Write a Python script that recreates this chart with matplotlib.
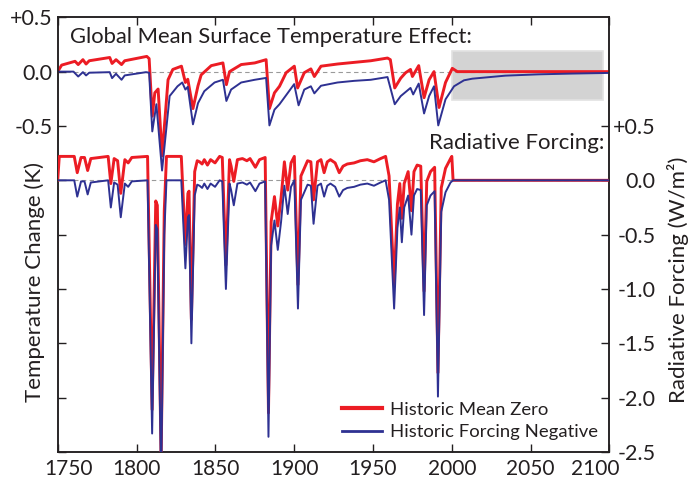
import matplotlib
matplotlib.use("Agg")
import matplotlib.pyplot as plt
import matplotlib.transforms as mtransforms
from matplotlib.patches import Rectangle
from matplotlib import rcParams

rcParams.update({"font.family": ["Lato", "DejaVu Sans"], "font.size": 15})

# ---- data ----
# radiative forcing (W/m2), both runs share the same year breakpoints
forcing_years = [1750, 1751, 1760.5, 1762.4, 1764.8, 1767, 1769, 1771, 1782, 1783.7,
                 1785.8, 1788, 1790, 1792.6, 1794.7, 1797, 1807, 1809.9, 1812.2, 1813.2,
                 1815.6, 1817.6, 1819, 1828.4, 1831, 1832.6, 1833.3, 1834.8, 1836.9, 1838.5,
                 1840, 1841.6, 1843, 1845, 1847, 1849.8, 1852.7, 1854.4, 1856.7, 1859,
                 1860, 1861.7, 1864, 1867.2, 1870, 1872, 1875.4, 1878, 1881.6, 1883.7,
                 1885.4, 1887.5, 1889.6, 1891.7, 1893.8, 1895.9, 1898, 1900.1, 1902.4, 1904.3,
                 1906.4, 1908.5, 1910.6, 1912.3, 1914.8, 1917, 1919, 1921, 1923, 1926,
                 1928.6, 1931, 1933.7, 1938, 1942, 1946.4, 1950.6, 1954.8, 1958, 1960.2,
                 1963.4, 1965.5, 1967, 1968.3, 1969.8, 1972.3, 1974.4, 1976, 1978, 1980.3,
                 1982.4, 1984.1, 1986.5, 1989.1, 1991.2, 1993.3, 1996, 1999.2, 2000.0, 2000.8,
                 2100]
forcing_negative = [0.0, 0.0, 0.0, -0.15, -0.01, -0.01, -0.13, -0.02, 0.0, -0.25,
                    -0.02, -0.04, -0.34, -0.03, -0.06, -0.01, 0.0, -2.33, -0.41, -0.45,
                    -2.8, -0.5, 0.0, 0.0, -0.81, -0.34, -0.32, -1.50, -0.14, -0.04,
                    -0.05, -0.07, -0.03, -0.08, -0.03, -0.06, 0.0, -0.01, -1.00, -0.03,
                    -0.09, -0.23, -0.03, -0.02, -0.04, -0.02, -0.10, -0.03, -0.01, -2.36,
                    -0.60, -0.37, -0.64, -0.38, -0.05, -0.31, -0.06, 0.0, -1.18, -0.18,
                    -0.11, -0.04, -0.05, -0.40, -0.05, -0.03, -0.15, -0.05, -0.03, -0.06,
                    -0.15, -0.09, -0.07, -0.06, -0.04, -0.03, -0.05, -0.02, 0.0, -0.18,
                    -1.18, -0.44, -0.25, -0.57, -0.25, -0.14, -0.50, -0.14, -0.08, -0.09,
                    -1.24, -0.23, -0.14, -0.10, -1.99, -0.29, -0.11, -0.02, -0.01, 0.0,
                    0.0]
forcing_mean_zero = [0.0, 0.22, 0.22, 0.07, 0.21, 0.21, 0.09, 0.20, 0.22, -0.03,
                     0.20, 0.18, -0.12, 0.19, 0.16, 0.21, 0.22, -2.11, -0.19, -0.23,
                     -2.58, -0.28, 0.22, 0.22, -0.59, -0.12, -0.10, -1.28, 0.08, 0.18,
                     0.17, 0.15, 0.19, 0.14, 0.19, 0.16, 0.22, 0.21, -0.78, 0.19,
                     0.13, -0.01, 0.19, 0.20, 0.18, 0.20, 0.12, 0.19, 0.21, -2.14,
                     -0.38, -0.15, -0.42, -0.16, 0.17, -0.09, 0.16, 0.22, -0.96, 0.04,
                     0.11, 0.18, 0.17, -0.18, 0.17, 0.19, 0.07, 0.17, 0.19, 0.16,
                     0.07, 0.13, 0.15, 0.16, 0.18, 0.19, 0.17, 0.20, 0.22, 0.04,
                     -0.96, -0.22, -0.03, -0.35, -0.03, 0.08, -0.28, 0.08, 0.14, 0.13,
                     -1.02, -0.01, 0.08, 0.12, -1.77, -0.07, 0.11, 0.20, 0.22, 0.0,
                     0.0]

# global mean surface temperature response (K)
temp_zero_years = [1750, 1752.5, 1761, 1763, 1766, 1768, 1770, 1783, 1784.5, 1787,
                   1790.5, 1792.5, 1806.5, 1808, 1810, 1811.6, 1813.7, 1816.2, 1820, 1823,
                   1828.5, 1831, 1832.5, 1835.8, 1839, 1841, 1847.4, 1854.8, 1857, 1859,
                   1866.4, 1875, 1882.2, 1884.3, 1887.5, 1890.7, 1894.9, 1900.1, 1902.2, 1906.4,
                   1910.6, 1912.8, 1917, 1927.5, 1938, 1948.6, 1959.2, 1961, 1963.8, 1967.6,
                   1970.7, 1973.8, 1975, 1979, 1982.4, 1985.6, 1988.7, 1991.9, 1996, 2000.3,
                   2003.5, 2100]
temp_zero = [0.0, 0.06, 0.095, 0.065, 0.11, 0.07, 0.10, 0.13, 0.075, 0.11,
             0.065, 0.10, 0.14, 0.12, -0.41, -0.195, -0.16, -0.775, -0.075, 0.02,
             0.05, -0.10, -0.07, -0.34, -0.13, -0.03, 0.055, 0.08, -0.12, 0.0,
             0.065, 0.08, 0.11, -0.34, -0.195, -0.135, -0.01, 0.05, -0.15, -0.01,
             0.025, -0.045, 0.05, 0.07, 0.085, 0.10, 0.125, 0.11, -0.15, -0.06,
             -0.01, 0.02, -0.045, 0.055, -0.24, -0.075, 0.0, -0.33, -0.10, 0.03,
             0.0, 0.0]

temp_neg_years = [1750, 1760, 1763, 1766, 1768, 1770, 1783, 1784.5, 1787, 1790.5,
                  1792.5, 1806, 1808, 1810, 1812.6, 1816.2, 1821, 1826, 1829, 1831,
                  1832.5, 1835.8, 1839, 1843, 1849.5, 1854.8, 1857, 1860, 1866.4, 1875,
                  1882.2, 1884.3, 1887.5, 1890.7, 1896, 1900, 1902.8, 1906.4, 1910.6, 1912.8,
                  1917, 1927.5, 1938, 1948.6, 1959.2, 1963.8, 1967.6, 1973.8, 1975.5, 1979,
                  1982.4, 1985.6, 1988.7, 1991.4, 1996, 2001.4, 2007.7, 2013, 2034, 2055,
                  2076, 2100]
temp_negative = [0.0, 0.0, -0.045, -0.005, -0.035, -0.01, -0.005, -0.06, -0.02, -0.075,
                 -0.035, -0.005, -0.01, -0.55, -0.30, -0.91, -0.225, -0.135, -0.10, -0.165,
                 -0.14, -0.485, -0.29, -0.18, -0.10, -0.075, -0.27, -0.165, -0.10, -0.075,
                 -0.058, -0.495, -0.35, -0.30, -0.195, -0.115, -0.31, -0.165, -0.135, -0.20,
                 -0.13, -0.10, -0.085, -0.075, -0.05, -0.30, -0.225, -0.15, -0.21, -0.11,
                 -0.385, -0.225, -0.135, -0.495, -0.255, -0.135, -0.08, -0.065, -0.037, -0.025,
                 -0.018, -0.012]

x_ticks = [1750, 1800, 1850, 1900, 1950, 2000, 2050, 2100]
temp_ticks = [0.5, 0.0, -0.5, -1.0, -1.5, -2.0, -2.5, -3.0, -3.5]
temp_tick_labels = ["+0.5", "0.0", "-0.5", "", "", "", "", "", ""]
rf_ticks = [0.5, 0.0, -0.5, -1.0, -1.5, -2.0, -2.5]
rf_tick_labels = ["+0.5", "0.0", "-0.5", "-1.0", "-1.5", "-2.0", "-2.5"]

RED = "#ec1c24"
BLUE = "#2e3192"
INK = "#231f20"

fig = plt.figure(figsize=(6.91, 4.80), dpi=100)
ax = fig.add_axes([0.0835, 0.0583, 0.7985, 0.9057])
ax2 = ax.twinx()

# projection period shading
ax.add_patch(Rectangle((2000, -0.265), 96, 0.451, facecolor="#d3d3d3",
                       edgecolor="#e2e2e2", lw=1.2, zorder=0))
ax.axhline(0, color="#9a9a9a", lw=0.8, ls=(0, (4, 3)), zorder=1)
ax2.axhline(0, color="#9a9a9a", lw=0.8, ls=(0, (4, 3)), zorder=1)

ax.plot(temp_zero_years, temp_zero, color=RED, lw=2.1, zorder=3)
ax.plot(temp_neg_years, temp_negative, color=BLUE, lw=1.4, zorder=3)
l1, = ax2.plot(forcing_years, forcing_mean_zero, color=RED, lw=2.1, zorder=3,
               label="Historic Mean Zero")
l2, = ax2.plot(forcing_years, forcing_negative, color=BLUE, lw=1.4, zorder=4,
               label="Historic Forcing Negative")

ax.set_xlim(1750, 2100)
ax.set_ylim(-3.5, 0.5)
ax2.set_ylim(-2.5, 1.5)

ax.set_xticks(x_ticks)
ax.set_yticks(temp_ticks)
ax.set_yticklabels(temp_tick_labels)
ax2.set_yticks(rf_ticks)
ax2.set_yticklabels(rf_tick_labels, ha="right")

ax.tick_params(axis="x", direction="in", top=True, length=6, width=1,
               color=INK, labelcolor=INK, pad=5, labelsize=15)
ax.tick_params(axis="y", direction="in", length=6, width=1, color=INK,
               labelcolor=INK, pad=3.5, labelsize=15.5)
ax2.tick_params(axis="y", direction="in", length=6, width=1, color=INK,
                labelcolor=INK, pad=33, labelsize=15.5)
for a in (ax, ax2):
    for s in a.spines.values():
        s.set_color(INK)
        s.set_linewidth(1.1)

# nudge the end year labels inside, as in the original
xlabels = ax.get_xticklabels()
xlabels[0].set_transform(xlabels[0].get_transform() +
                         mtransforms.ScaledTranslation(0.107, 0, fig.dpi_scale_trans))
xlabels[-1].set_transform(xlabels[-1].get_transform() +
                          mtransforms.ScaledTranslation(-0.145, 0, fig.dpi_scale_trans))

ax.text(1757.8, 0.32, "Global Mean Surface Temperature Effect:", va="center",
        ha="left", fontsize=15.8, color=INK)
ax2.text(2097, 0.34, "Radiative Forcing:", va="center", ha="right",
         fontsize=16, color=INK)

fig.text(35 / 691, 1 - 281.5 / 480, "Temperature Change (K)", rotation=90,
         ha="center", va="center", fontsize=16, color=INK)
fig.text(678 / 691, 1 - 279.5 / 480, "Radiative Forcing (W/m²)", rotation=90,
         ha="center", va="center", fontsize=16, color=INK)

leg = ax2.legend(handles=[l1, l2], loc="upper left", bbox_to_anchor=(0.5147, 0.116),
                 frameon=False, fontsize=13.3, handlelength=2.2, handletextpad=0.42,
                 labelspacing=0.36, borderpad=0, borderaxespad=0)
for t in leg.get_texts():
    t.set_color(INK)
leg.get_lines()[0].set_linewidth(3)
leg.get_lines()[1].set_linewidth(2)

fig.savefig("out.png", dpi=100)
